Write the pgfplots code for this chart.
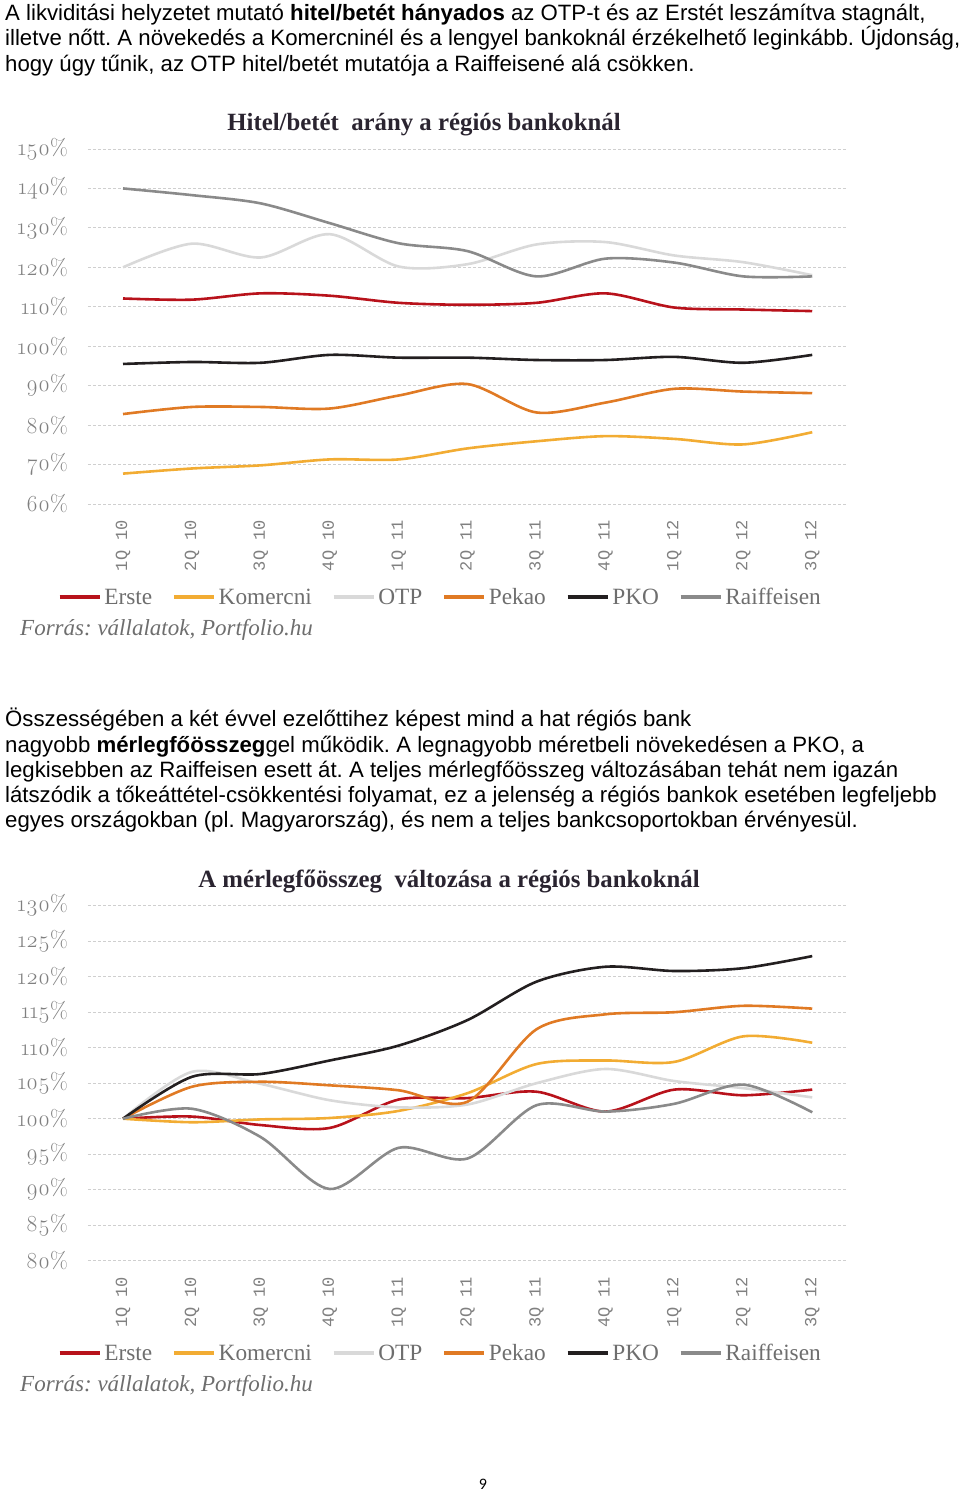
\documentclass[border=0pt]{standalone}
\usepackage{fontspec}
\setmainfont{Liberation Sans}
\newfontfamily\serif{Liberation Serif}
\newfontfamily\osf{Latin Modern Roman}[Numbers=OldStyle]
\newfontfamily\mono{Liberation Mono}
\newfontfamily\calib{Carlito}
\usepackage{pgfplots}
\pgfplotsset{compat=1.18}
\frenchspacing

\definecolor{cErste}{HTML}{B8121B}
\definecolor{cKom}{HTML}{F2AC33}
\definecolor{cOTP}{HTML}{D9D9D9}
\definecolor{cPekao}{HTML}{E07A24}
\definecolor{cPKO}{HTML}{231F20}
\definecolor{cRaif}{HTML}{8A8A8A}
\definecolor{tickgray}{HTML}{808080}
\definecolor{legendgray}{HTML}{6E6E6E}
\definecolor{gridgray}{HTML}{CFCFCF}
\definecolor{titlecol}{HTML}{2A2430}

\pgfplotsset{mychart/.style={
  scale only axis, width=758pt, height=355pt,
  xmin=-0.508, xmax=10.49,
  axis line style={draw=none}, major tick length=0pt,
  xtick={0,...,10},
  xticklabels={1Q 10,2Q 10,3Q 10,4Q 10,1Q 11,2Q 11,3Q 11,4Q 11,1Q 12,2Q 12,3Q 12},
  xticklabel style={rotate=90, anchor=east, inner sep=0pt, font=\mono\fontsize{17}{17}\selectfont, text=tickgray},
  xticklabel shift=16pt,
  yticklabel style={anchor=east, inner sep=0pt, font=\osf\fontsize{23}{23}\selectfont, text=tickgray},
  yticklabel shift=20pt,
  ymajorgrids, grid style={gridgray, dash pattern=on 3pt off 2pt, line width=0.8pt},
  every axis plot/.append style={smooth, line width=2.6pt},
  legend columns=6,
  legend style={draw=none, fill=none, anchor=west,
    font=\serif\fontsize{23.3}{23.3}\selectfont,
    nodes={text=legendgray, inner sep=3pt},
    /tikz/every even column/.append style={column sep=17pt}},
  legend image code/.code={\draw[#1, line width=3.5pt] (0pt,0pt) -- (40pt,0pt);},
}}

\begin{document}
\begin{tikzpicture}
\useasboundingbox (0,0) rectangle (960pt,1501pt);

% paragraph 1
\begin{scope}[every node/.style={anchor=base west, inner sep=0pt, font=\fontsize{22.2}{22.2}\selectfont}]
\node at (5pt,1480.5pt) {A likviditási helyzetet mutató {\bfseries hitel/betét hányados} az OTP-t és az Erstét leszámítva stagnált,};
\node at (5pt,1455pt) {illetve nőtt. A növekedés a Komercninél és a lengyel bankoknál érzékelhető leginkább. Újdonság,};
\node at (5pt,1429.5pt) {hogy úgy tűnik, az OTP hitel/betét mutatója a Raiffeisené alá csökken.};
% paragraph 2
\node at (5pt,774pt) {Összességében a két évvel ezelőttihez képest mind a hat régiós bank};
\node at (5pt,748pt) {nagyobb {\bfseries mérlegfőösszeg}gel működik. A legnagyobb méretbeli növekedésen a PKO, a};
\node at (5pt,723pt) {legkisebben az Raiffeisen esett át. A teljes mérlegfőösszeg változásában tehát nem igazán};
\node at (5pt,698pt) {látszódik a tőkeáttétel-csökkentési folyamat, ez a jelenség a régiós bankok esetében legfeljebb};
\node at (5pt,673pt) {egyes országokban (pl. Magyarország), és nem a teljes bankcsoportokban érvényesül.};
\end{scope}

% titles
\node[anchor=base, inner sep=0pt, text=titlecol, font=\serif\bfseries\fontsize{24.8}{24.8}\selectfont] at (424pt,1370pt) {Hitel/betét\ \ arány a régiós bankoknál};
\node[anchor=base, inner sep=0pt, text=titlecol, font=\serif\bfseries\fontsize{24.8}{24.8}\selectfont] at (449pt,613pt) {A mérlegfőösszeg\ \ változása a régiós bankoknál};

% sources
\node[anchor=base west, inner sep=0pt, text=legendgray, font=\serif\itshape\fontsize{23}{23}\selectfont] at (20pt,865pt) {Forrás: vállalatok, Portfolio.hu};
\node[anchor=base west, inner sep=0pt, text=legendgray, font=\serif\itshape\fontsize{23}{23}\selectfont] at (20pt,109pt) {Forrás: vállalatok, Portfolio.hu};

% page number
\node[anchor=base, inner sep=0pt, font=\calib\fontsize{16}{16}\selectfont] at (483pt,11pt) {9};

% chart 1
\begin{axis}[mychart, at={(88pt,997pt)}, anchor=south west,
  ymin=60, ymax=150, ytick={60,70,...,150},
  yticklabels={60\%,70\%,80\%,90\%,100\%,110\%,120\%,130\%,140\%,150\%},
  legend style={at={(axis description cs:-0.044,-0.262)}}]
\addplot[cErste] coordinates {(0,112.1)(1,111.8)(2,113.4)(3,112.8)(4,111.0)(5,110.5)(6,111.0)(7,113.4)(8,109.8)(9,109.3)(10,108.9)};
\addplot[cKom] coordinates {(0,67.7)(1,69.0)(2,69.8)(3,71.3)(4,71.3)(5,74.1)(6,75.9)(7,77.2)(8,76.5)(9,75.1)(10,78.2)};
\addplot[cOTP] coordinates {(0,120.0)(1,126.0)(2,122.5)(3,128.4)(4,120.2)(5,120.8)(6,125.8)(7,126.4)(8,123.0)(9,121.3)(10,118.0)};
\addplot[cPekao] coordinates {(0,82.8)(1,84.6)(2,84.6)(3,84.2)(4,87.5)(5,90.4)(6,83.2)(7,85.7)(8,89.2)(9,88.5)(10,88.1)};
\addplot[cPKO] coordinates {(0,95.5)(1,96.0)(2,95.8)(3,97.8)(4,97.1)(5,97.1)(6,96.5)(7,96.5)(8,97.3)(9,95.8)(10,97.8)};
\addplot[cRaif] coordinates {(0,140.0)(1,138.3)(2,136.2)(3,131.2)(4,126.1)(5,124.1)(6,117.7)(7,122.2)(8,121.2)(9,117.7)(10,117.7)};
\legend{\strut Erste,\strut Komercni,\strut OTP,\strut Pekao,\strut PKO,\strut Raiffeisen}
\end{axis}

% chart 2
\begin{axis}[mychart, at={(88pt,240.3pt)}, anchor=south west,
  ymin=80, ymax=130, ytick={80,85,...,130},
  yticklabels={80\%,85\%,90\%,95\%,100\%,105\%,110\%,115\%,120\%,125\%,130\%},
  legend style={at={(axis description cs:-0.044,-0.2595)}}]
\addplot[cErste] coordinates {(0,100)(1,100.3)(2,99.1)(3,98.7)(4,102.7)(5,102.9)(6,103.8)(7,101.0)(8,104.1)(9,103.3)(10,104.1)};
\addplot[cKom] coordinates {(0,100)(1,99.5)(2,99.9)(3,100.1)(4,101.1)(5,103.6)(6,107.7)(7,108.2)(8,108.0)(9,111.6)(10,110.7)};
\addplot[cOTP] coordinates {(0,100)(1,106.6)(2,104.9)(3,102.6)(4,101.6)(5,102.0)(6,105.0)(7,107.0)(8,105.3)(9,104.3)(10,103.0)};
\addplot[cPekao] coordinates {(0,100)(1,104.5)(2,105.2)(3,104.7)(4,104.0)(5,102.4)(6,112.6)(7,114.7)(8,115.0)(9,115.9)(10,115.5)};
\addplot[cPKO] coordinates {(0,100)(1,105.9)(2,106.3)(3,108.2)(4,110.3)(5,113.9)(6,119.3)(7,121.4)(8,120.8)(9,121.2)(10,122.9)};
\addplot[cRaif] coordinates {(0,100)(1,101.4)(2,97.4)(3,90.1)(4,95.9)(5,94.4)(6,101.9)(7,101.0)(8,102.1)(9,104.8)(10,100.9)};
\legend{\strut Erste,\strut Komercni,\strut OTP,\strut Pekao,\strut PKO,\strut Raiffeisen}
\end{axis}
\end{tikzpicture}
\end{document}
